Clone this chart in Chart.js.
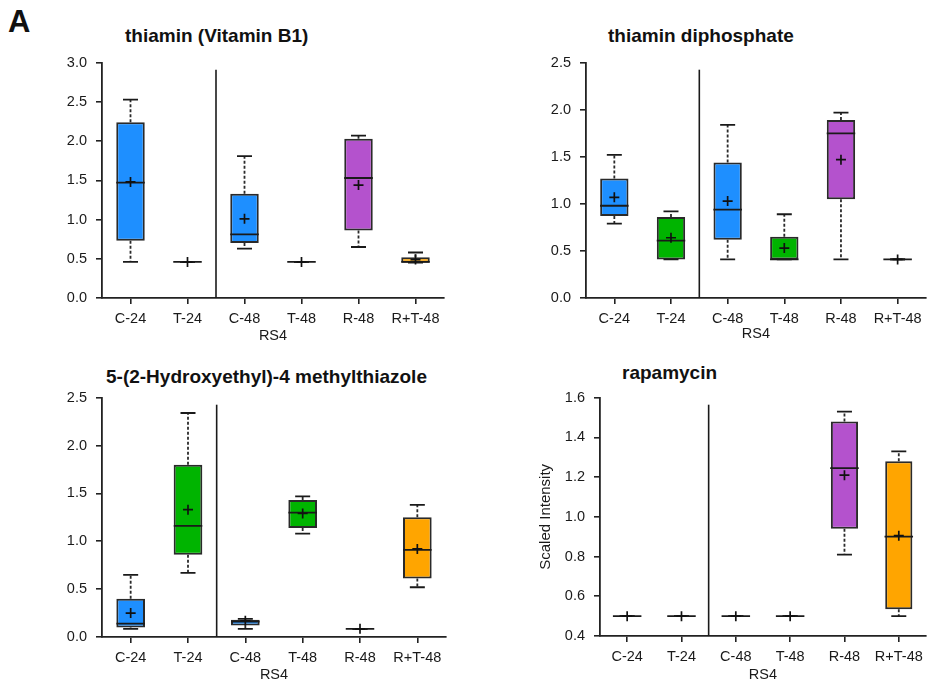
<!DOCTYPE html>
<html><head><meta charset="utf-8">
<script src="https://cdn.jsdelivr.net/npm/chart.js@4.4.1/dist/chart.umd.min.js"></script>
<style>
html,body{margin:0;padding:0;background:#fff;}
#wrap{position:relative;width:942px;height:685px;overflow:hidden;font-family:"Liberation Sans",Arial,sans-serif;}
canvas{position:absolute;}
.t{position:absolute;font-weight:bold;font-size:19px;line-height:1;color:#111;white-space:nowrap;}
</style></head>
<body><div id="wrap">
<div class="t" style="left:8px;top:6px;font-size:31px;">A</div>
<div class="t" style="left:125px;top:26px">thiamin (Vitamin B1)</div>
<div class="t" style="left:608px;top:26px">thiamin diphosphate</div>
<div class="t" style="left:106px;top:367px">5-(2-Hydroxyethyl)-4 methylthiazole</div>
<div class="t" style="left:622px;top:363px">rapamycin</div>
<canvas id="c1" width="470" height="300" style="left:0px;top:45px"></canvas>
<canvas id="c2" width="472" height="300" style="left:470px;top:45px"></canvas>
<canvas id="c3" width="470" height="305" style="left:0px;top:380px"></canvas>
<canvas id="c4" width="472" height="305" style="left:470px;top:380px"></canvas>
</div>
<script>
// ---- data ----
const categories = ['C-24','T-24','C-48','T-48','R-48','R+T-48'];

const b1Max  = [2.53, 0.46, 1.81, 0.46, 2.07, 0.58];
const b1Q3   = [2.24, 0.46, 1.33, 0.46, 2.03, 0.52];
const b1Med  = [1.47, 0.46, 0.81, 0.46, 1.53, 0.46];
const b1Q1   = [0.73, 0.46, 0.70, 0.46, 0.86, 0.45];
const b1Min  = [0.46, 0.46, 0.63, 0.46, 0.65, 0.45];
const b1Mean = [1.48, 0.46, 1.01, 0.46, 1.44, 0.49];

const tdpMax  = [1.52, 0.92, 1.84, 0.89, 1.97, 0.41];
const tdpQ3   = [1.27, 0.86, 1.44, 0.65, 1.89, 0.41];
const tdpMed  = [0.98, 0.61, 0.94, 0.41, 1.75, 0.41];
const tdpQ1   = [0.87, 0.41, 0.62, 0.41, 1.05, 0.41];
const tdpMin  = [0.79, 0.41, 0.41, 0.41, 0.41, 0.41];
const tdpMean = [1.07, 0.64, 1.03, 0.53, 1.47, 0.41];

const hetMax  = [0.65, 2.34, 0.19, 1.47, 0.085, 1.38];
const hetQ3   = [0.40, 1.80, 0.18, 1.43, 0.085, 1.25];
const hetMed  = [0.14, 1.16, 0.16, 1.30, 0.085, 0.91];
const hetQ1   = [0.10, 0.86, 0.12, 1.14, 0.085, 0.61];
const hetMin  = [0.085, 0.67, 0.085, 1.08, 0.085, 0.52];
const hetMean = [0.25, 1.33, 0.17, 1.29, 0.085, 0.92];

const rapMax  = [0.5, 0.5, 0.5, 0.5, 1.53, 1.33];
const rapQ3   = [0.5, 0.5, 0.5, 0.5, 1.48, 1.28];
const rapMed  = [0.5, 0.5, 0.5, 0.5, 1.245, 0.90];
const rapQ1   = [0.5, 0.5, 0.5, 0.5, 0.94, 0.535];
const rapMin  = [0.5, 0.5, 0.5, 0.5, 0.81, 0.50];
const rapMean = [0.5, 0.5, 0.5, 0.5, 1.21, 0.905];

// ---- styles ----
const boxColors = ['#1E8FFF','#00B400','#1E8FFF','#00B400','#B452CD','#FFA500'];
const FONT = '"Liberation Sans", Arial, sans-serif';
const INK = '#1a1a1a';

function boxChart(id, s) {
  const boxes = s.q1.map((v, i) => [v, s.q3[i]]);
  const extras = {
    id: 'boxExtras',
    beforeDatasetsDraw(chart) {
      const {ctx, scales: {x, y}} = chart;
      ctx.save();
      ctx.strokeStyle = '#2a2a2a';
      ctx.lineWidth = 1.8;
      ctx.setLineDash([3, 2]);
      for (let i = 0; i < s.min.length; i++) {
        const px = x.getPixelForValue(i);
        ctx.beginPath();
        ctx.moveTo(px, y.getPixelForValue(s.q3[i]));
        ctx.lineTo(px, y.getPixelForValue(s.max[i]));
        ctx.moveTo(px, y.getPixelForValue(s.q1[i]));
        ctx.lineTo(px, y.getPixelForValue(s.min[i]));
        ctx.stroke();
      }
      ctx.restore();
    },
    afterDraw(chart) {
      const {ctx, chartArea, scales: {x}} = chart;
      const px = (x.getPixelForValue(1) + x.getPixelForValue(2)) / 2;
      ctx.save();
      ctx.strokeStyle = INK;
      ctx.lineWidth = 1.6;
      ctx.beginPath();
      ctx.moveTo(px, chartArea.top + 7);
      ctx.lineTo(px, chartArea.bottom);
      ctx.stroke();
      ctx.restore();
    }
  };
  const tickFont = {family: FONT, size: 14.5};
  new Chart(document.getElementById(id), {
    type: 'bar',
    data: {
      labels: categories,
      datasets: [
        {type: 'line', data: s.mean, showLine: false, pointStyle: 'cross', pointRadius: 5,
         borderColor: '#111', pointBorderWidth: 1.7, order: 0},
        {type: 'line', data: s.med, showLine: false, pointStyle: 'line', pointRadius: 14.25,
         borderColor: '#1a1a1a', pointBorderWidth: 1.8, order: 1},
        {type: 'line', data: s.max, showLine: false, pointStyle: 'line', pointRadius: 7.5,
         borderColor: '#1a1a1a', pointBorderWidth: 1.8, order: 2},
        {type: 'line', data: s.min, showLine: false, pointStyle: 'line', pointRadius: 7.5,
         borderColor: '#1a1a1a', pointBorderWidth: 1.8, order: 2},
        {type: 'bar', data: boxes, backgroundColor: boxColors, borderColor: '#2a2a2a',
         borderWidth: 2, borderSkipped: false, barPercentage: 0.5, categoryPercentage: 1, order: 3}
      ]
    },
    options: {
      responsive: false,
      animation: false,
      events: [],
      layout: {padding: s.pad},
      plugins: {legend: {display: false}, tooltip: {enabled: false}, title: {display: false}},
      scales: {
        x: {
          offset: true,
          grid: {offset: false, drawOnChartArea: false, tickLength: 6, color: '#222', lineWidth: 1.6},
          border: {color: '#222', width: 1.8},
          ticks: {font: tickFont, color: INK, padding: 6, autoSkip: false, maxRotation: 0},
          title: {display: true, text: 'RS4', font: tickFont, color: INK, padding: {top: 0, bottom: s.rsPad}},
          afterFit(sc) { sc.height = s.xh; }
        },
        y: {
          min: s.yMin, max: s.yMax,
          grid: {drawOnChartArea: false, tickLength: 6, color: '#222', lineWidth: 1.6},
          border: {color: '#222', width: 1.8},
          ticks: {stepSize: s.step, font: tickFont, color: INK, padding: 9,
                  callback: v => Number(v).toFixed(1)},
          title: {display: !!s.yTitle, text: s.yTitle || '', font: {family: FONT, size: 15}, color: INK,
                  padding: 0},
          afterFit(sc) { sc.width = s.yw; }
        }
      }
    },
    plugins: [extras]
  });
}

boxChart('c1', {min: b1Min, q1: b1Q1, med: b1Med, q3: b1Q3, max: b1Max, mean: b1Mean,
  yMin: 0, yMax: 3.0, step: 0.5, pad: {left: 0, top: 10, right: 26, bottom: 0}, yw: 102, xh: 47, rsPad: 0.5});
boxChart('c2', {min: tdpMin, q1: tdpQ1, med: tdpMed, q3: tdpQ3, max: tdpMax, mean: tdpMean,
  yMin: 0, yMax: 2.5, step: 0.5, pad: {left: 0, top: 9, right: 13, bottom: 0}, yw: 116, xh: 47, rsPad: 2});
boxChart('c3', {min: hetMin, q1: hetQ1, med: hetMed, q3: hetQ3, max: hetMax, mean: hetMean,
  yMin: 0, yMax: 2.5, step: 0.5, pad: {left: 0, top: 12, right: 24, bottom: 0}, yw: 102, xh: 48, rsPad: 1.3});
boxChart('c4', {min: rapMin, q1: rapQ1, med: rapMed, q3: rapQ3, max: rapMax, mean: rapMean,
  yMin: 0.4, yMax: 1.6, step: 0.2, pad: {left: 67, top: 11, right: 1, bottom: 0}, yw: 63, xh: 49, rsPad: 1.8,
  yTitle: 'Scaled Intensity'});
</script>
</body></html>
